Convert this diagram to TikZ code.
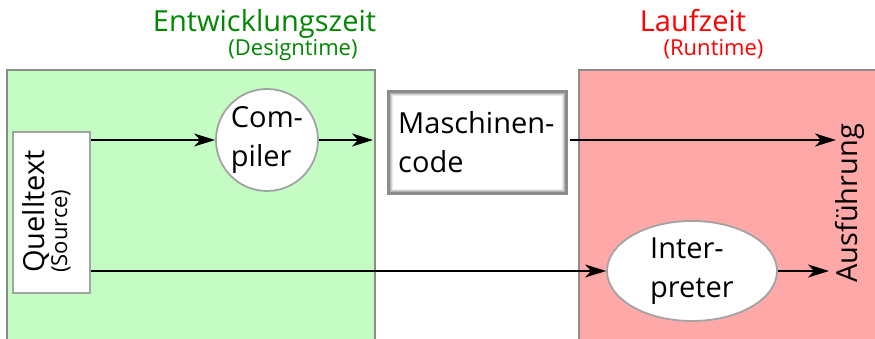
\documentclass[tikz,border=0pt]{standalone}
\usepackage{fontspec}
\setmainfont{Open Sans}
\usetikzlibrary{arrows.meta,shapes.geometric}
\definecolor{devfill}{RGB}{196,252,196}
\definecolor{runfill}{RGB}{255,168,168}
\definecolor{devtext}{RGB}{0,136,0}
\definecolor{runtext}{RGB}{255,0,0}
\definecolor{edgegray}{RGB}{140,140,140}
\tikzset{
  phase/.style={draw=edgegray, line width=2pt},
  card/.style={draw=edgegray!80, line width=1.8pt, fill=white},
  bigtext/.style={font=\fontsize{29}{39}\selectfont, inner sep=0pt},
  smalltext/.style={font=\fontsize{22}{26}\selectfont, inner sep=0pt},
  tip/.style={-{Stealth[length=21pt,width=13pt,inset=6pt]}},
  flow/.style={line width=1.3pt, tip},
}
\begin{document}
\begin{tikzpicture}[x=1pt,y=1pt]
\useasboundingbox (0,0) rectangle (875,339);
\clip (0,0) rectangle (875,339);
\fill[white] (0,0) rectangle (875,339);

% phase areas
\draw[phase, fill=devfill] (7,-10) rectangle (375,269);
\draw[phase, fill=runfill] (579,-10) rectangle (885,269);

% phase titles
\node[bigtext, text=devtext, anchor=base] (devtitle) at (264.5,307) {Entwicklungszeit};
\node[smalltext, text=devtext, anchor=base] (devsub) at (293,283) {(Designtime)};
\node[bigtext, text=runtext, anchor=base] (runtitle) at (693,307) {Laufzeit};
\node[smalltext, text=runtext, anchor=base] (runsub) at (713.5,283) {(Runtime)};

% source text
\node[card, rectangle, minimum width=77pt, minimum height=161pt, inner sep=0pt] (src) at (51.5,126.5) {};
\node[bigtext, rotate=90, anchor=base west] (srclabel) at (44,66) {Quelltext};
\node[smalltext, rotate=90, anchor=base west] (srcsub) at (67,66) {(Source)};

% compiler
\node[card, circle, minimum size=102pt, inner sep=0pt] (comp) at (267,199) {};
\node[bigtext, align=left] (complabel) at (comp) {Com-\\piler};
\coordinate (devedge) at (373,199);

% machine code: white card with a soft inner shadow along its edges
\node[fill=white, draw=edgegray, line width=1.5pt, rectangle, minimum width=179pt, minimum height=103pt, inner sep=0pt] (mcode) at (477.5,196.5) {};
\foreach \d/\s in {1.8/45,3.0/30,4.2/18,5.4/8}
  \draw[black!\s, line width=1.3pt] ([shift={(\d,\d)}]mcode.south west) rectangle ([shift={(-\d,-\d)}]mcode.north east);
\node[bigtext, align=left, anchor=west] (mlabel) at (398,197) {Maschinen-\\code};

% interpreter
\node[card, ellipse, minimum width=170pt, minimum height=100pt, inner sep=0pt] (interp) at (692,68) {};
\node[bigtext, align=left] (ilabel) at (692,68) {Inter-\\preter};

% execution
\node[bigtext, rotate=90, anchor=base west] (exec) at (857,56) {Ausführung};
\coordinate (exectop) at (836,199);
\coordinate (execlow) at (829,68);

% connectors
\draw[flow] (src.east |- comp.west) -- (comp.west);
\draw[flow] (comp.east) -- (devedge);
\draw[flow] ([xshift=2pt]mcode.east |- exectop) -- (exectop);
\draw[flow] (src.east |- interp.west) -- (interp.west);
\draw[flow] (interp.east) -- (execlow);
\end{tikzpicture}
\end{document}
